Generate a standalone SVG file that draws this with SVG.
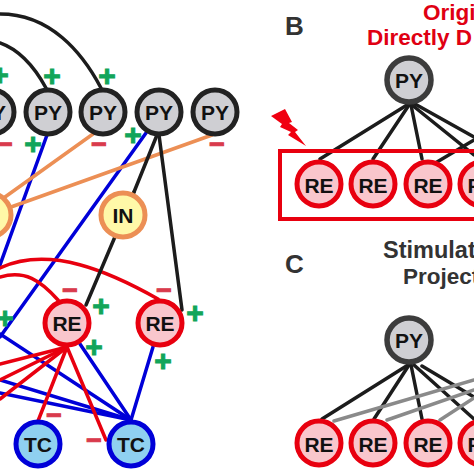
<svg xmlns="http://www.w3.org/2000/svg" width="474" height="474" viewBox="0 0 474 474">
<style>
.c{fill:none;stroke-linecap:round}
.k{stroke:#1c1c1c;stroke-width:3.5}
.b{stroke:#0000d8;stroke-width:3.5}
.r{stroke:#e8000f;stroke-width:3.5}
.o{stroke:#ec8f55;stroke-width:3.5}
.g{stroke:#8a8a8a;stroke-width:3.5}
circle{stroke-width:5}
.py circle{fill:#cfcfd3;stroke:#222}
.py2 circle{fill:#cfcfd3;stroke:#3c3c3c;stroke-width:5.5}
.re circle{fill:#f9c6cc;stroke:#e8000f}
.tc circle{fill:#8fd0f0;stroke:#0000d8}
.in circle{fill:#fff8a8;stroke:#ec8f55}
.n{font:bold 21px "Liberation Sans",Arial,sans-serif;fill:#111;text-anchor:middle}
.t{font:bold 22.5px "Liberation Sans",Arial,sans-serif}
.l{font:bold 26px "Liberation Sans",Arial,sans-serif;fill:#333}
.p{font:bold 30px "Liberation Sans",Arial,sans-serif;fill:#12a55a;stroke:#12a55a;stroke-width:1;text-anchor:middle}
.m{font:bold 27px "Liberation Sans",Arial,sans-serif;fill:#d93a4c;stroke:#d93a4c;stroke-width:1;text-anchor:middle}
</style>
<rect width="474" height="474" fill="#fff"/>
<g id="connectors">
<path class="c k" d="M101,88C82,52 50,14 0,14"/>
<path class="c k" d="M46,88C35,68 20,50 0,43"/>
<path class="c b" d="M47,135L0,265"/>
<path class="c b" d="M146,133L0,337"/>
<path class="c b" d="M0,334L131,420"/>
<path class="c b" d="M0,380L131,420"/>
<path class="c b" d="M0,393L131,420"/>
<path class="c b" d="M80,344L131,420"/>
<path class="c b" d="M153,347L131,420"/>
<path class="c r" d="M67,347L0,364"/>
<path class="c r" d="M67,347L0,380"/>
<path class="c r" d="M67,347L0,399"/>
<path class="c r" d="M67,347L38,421"/>
<path class="c r" d="M67,347L106,440"/>
<path class="c r" d="M158,299C110,272 50,245 0,268"/>
<path class="c r" d="M58,300C40,280 25,270 0,277"/>
<path class="c o" d="M93,134L5,197"/>
<path class="c o" d="M212,135L11,207"/>
<path class="c k" d="M157,135L134,192"/>
<path class="c k" d="M159,135L182,310"/>
<path class="c k" d="M134,192L86,305"/>
<path class="c k" d="M407,105L320,159"/>
<path class="c k" d="M409,105L373,159"/>
<path class="c k" d="M411,105L422,159"/>
<path class="c k" d="M412,105L474,155"/>
<path class="c k" d="M415,104L474,137"/>
<path class="c k" d="M437,162L474,140"/>
<path class="c k" d="M408,365L322,419"/>
<path class="c k" d="M409,365L374,419"/>
<path class="c k" d="M411,365L422,419"/>
<path class="c k" d="M414,365L474,419"/>
<path class="c k" d="M422,366L474,397"/>
<path class="c g" d="M334,421L474,380"/>
<path class="c g" d="M387,420L474,390"/>
<path class="c g" d="M440,420L474,398"/>
</g>
<rect id="stim-box" x="280" y="151" width="210" height="68" fill="none" stroke="#e8000f" stroke-width="4"/>
<polygon id="bolt" points="271,116 285,109 292,122 289,123 298,130 295,132 306,146 288,135 291,132 280,127 282,124" fill="#f00010"/>
<g id="a-py0" class="py"><circle cx="-8" cy="112" r="22"/><text class="n" x="-8" y="119.500">PY</text></g>
<g id="a-py1" class="py"><circle cx="48" cy="112" r="22"/><text class="n" x="48" y="119.500">PY</text></g>
<g id="a-py2" class="py"><circle cx="103" cy="112" r="22"/><text class="n" x="103" y="119.500">PY</text></g>
<g id="a-py3" class="py"><circle cx="159" cy="112" r="22"/><text class="n" x="159" y="119.500">PY</text></g>
<g id="a-py4" class="py"><circle cx="215" cy="112" r="22"/><text class="n" x="215" y="119.500">PY</text></g>
<g id="a-in0" class="in"><circle cx="-11" cy="215" r="22"/></g>
<g id="a-in1" class="in"><circle cx="123" cy="215" r="22"/><text class="n" x="123" y="222.500">IN</text></g>
<g id="a-re1" class="re"><circle cx="67" cy="323" r="22"/><text class="n" x="67" y="330.500">RE</text></g>
<g id="a-re2" class="re"><circle cx="160" cy="323" r="22"/><text class="n" x="160" y="330.500">RE</text></g>
<g id="a-tc1" class="tc"><circle cx="38" cy="444" r="22"/><text class="n" x="38" y="451.500">TC</text></g>
<g id="a-tc2" class="tc"><circle cx="131" cy="444" r="22"/><text class="n" x="131" y="451.500">TC</text></g>
<g id="b-py" class="py2"><circle cx="409" cy="80" r="22"/><text class="n" x="409" y="87.500">PY</text></g>
<g id="b-re1" class="re"><circle cx="319" cy="184" r="22"/><text class="n" x="319" y="193">RE</text></g>
<g id="b-re2" class="re"><circle cx="373" cy="184" r="22"/><text class="n" x="373" y="193">RE</text></g>
<g id="b-re3" class="re"><circle cx="428" cy="184" r="22"/><text class="n" x="428" y="193">RE</text></g>
<g id="b-re4" class="re"><circle cx="482" cy="184" r="22"/><text class="n" x="482" y="193">RE</text></g>
<g id="c-py" class="py2"><circle cx="409" cy="340" r="22"/><text class="n" x="409" y="347.500">PY</text></g>
<g id="c-re1" class="re"><circle cx="319" cy="443" r="22"/><text class="n" x="319" y="452">RE</text></g>
<g id="c-re2" class="re"><circle cx="373" cy="443" r="22"/><text class="n" x="373" y="452">RE</text></g>
<g id="c-re3" class="re"><circle cx="428" cy="443" r="22"/><text class="n" x="428" y="452">RE</text></g>
<g id="c-re4" class="re"><circle cx="482" cy="443" r="22"/><text class="n" x="482" y="452">RE</text></g>
<g id="signs">
<text class="p" x="0" y="85">+</text>
<text class="p" x="52" y="86">+</text>
<text class="p" x="107" y="86">+</text>
<text class="p" x="33" y="154">+</text>
<text class="p" x="133" y="145">+</text>
<text class="p" x="5" y="328">+</text>
<text class="p" x="101" y="316">+</text>
<text class="p" x="94" y="357">+</text>
<text class="p" x="195" y="323">+</text>
<text class="p" x="163" y="371">+</text>
<text class="m" x="5" y="153">−</text>
<text class="m" x="99" y="153">−</text>
<text class="m" x="217" y="153">−</text>
<text class="m" x="70" y="299">−</text>
<text class="m" x="164" y="299">−</text>
<text class="m" x="54" y="424">−</text>
<text class="m" x="94" y="449">−</text>
</g>
<text class="l" x="285" y="35">B</text>
<text class="l" x="285" y="273">C</text>
<text class="t" x="423" y="20" fill="#e00012">Origi</text>
<text class="t" x="367" y="45" fill="#e00012">Directly D</text>
<text class="t" x="383" y="258" fill="#333" style="font-size:23.5px">Stimulat</text>
<text class="t" x="403" y="284" fill="#333">Project</text>
</svg>
